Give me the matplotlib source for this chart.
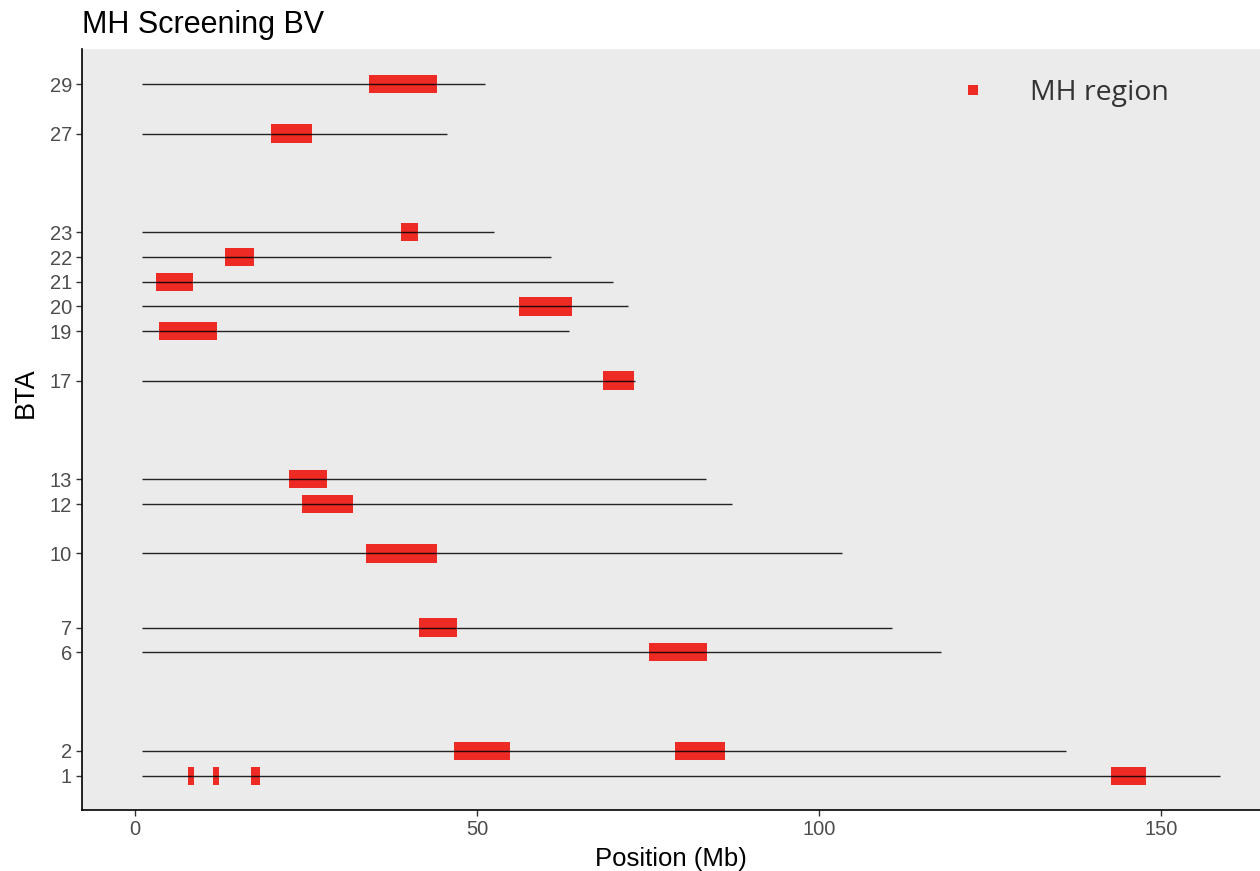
import numpy as np
from matplotlib import pyplot as plt
from matplotlib.lines import Line2D

# chromosome extents (Mb)
chroms = [1, 2, 6, 7, 10, 12, 13, 17, 19, 20, 21, 22, 23, 27, 29]
chrom_start = [1.0] * len(chroms)
chrom_end = [158.6, 136.1, 117.8, 110.7, 103.4, 87.3, 83.5, 73.1,
             63.5, 72.1, 69.9, 60.8, 52.5, 45.6, 51.2]

# MH regions found in the screening (Mb)
region_chrom = [1, 1, 1, 1, 2, 2, 6, 7, 10, 12, 13, 17, 19, 20, 21, 22, 23, 27, 29]
region_start = [7.7, 11.4, 17.0, 142.7, 46.6, 78.9, 75.1, 41.5, 33.8, 24.4,
                22.5, 68.4, 3.5, 56.1, 3.1, 13.2, 38.9, 19.9, 34.2]
region_end = [8.6, 12.3, 18.3, 147.8, 54.8, 86.3, 83.6, 47.1, 44.2, 31.9,
              28.1, 73.0, 12.0, 63.9, 8.5, 17.4, 41.4, 25.9, 44.2]

red = '#EE2A24'
plt.rcParams['font.family'] = ['Liberation Sans', 'DejaVu Sans']

fig = plt.figure(figsize=(12.6, 8.71), dpi=100)
ax = fig.add_axes([0.0648, 0.070, 1 - 0.0648, 0.8737])
ax.set_facecolor('#EBEBEB')

widths = np.array(region_end) - np.array(region_start)
ax.barh(region_chrom, widths, left=region_start, height=0.74, color=red,
        edgecolor='none', zorder=2)
ax.hlines(chroms, chrom_start, chrom_end, color='black', linewidth=1.0,
          alpha=0.85, zorder=3)

ax.set_xlim(-7.8, 164.5)
ax.set_ylim(-0.39, 30.42)
ax.set_xticks([0, 50, 100, 150])
ax.set_yticks(chroms)

for side in ['top', 'right']:
    ax.spines[side].set_visible(False)
for side in ['left', 'bottom']:
    ax.spines[side].set_color('black')
    ax.spines[side].set_linewidth(1.2)
ax.tick_params(axis='both', colors='#333333', labelcolor='#4D4D4D',
               labelsize=14.5, length=4, width=1.0, pad=3)

ax.set_xlabel('Position (Mb)', fontsize=18.5, labelpad=6)
ax.set_ylabel('BTA', fontsize=19.5)
ax.yaxis.set_label_coords(-0.0362, 0.548)

# title sits flush with the panel's left edge
fig.text(0.0651, 0.962, 'MH Screening BV', fontsize=22, ha='left',
         va='baseline')

handle = Line2D([], [], linestyle='none', marker='s', markersize=7,
                color=red, markeredgewidth=0)
leg = ax.legend([handle], ['MH region'], loc='center left',
                bbox_to_anchor=(0.723, 0.942), borderaxespad=0, frameon=False,
                handletextpad=1.0,
                prop={'family': 'Open Sans', 'size': 20.5})
for t in leg.get_texts():
    t.set_color('#333333')

fig.savefig('out.png', dpi=100)
